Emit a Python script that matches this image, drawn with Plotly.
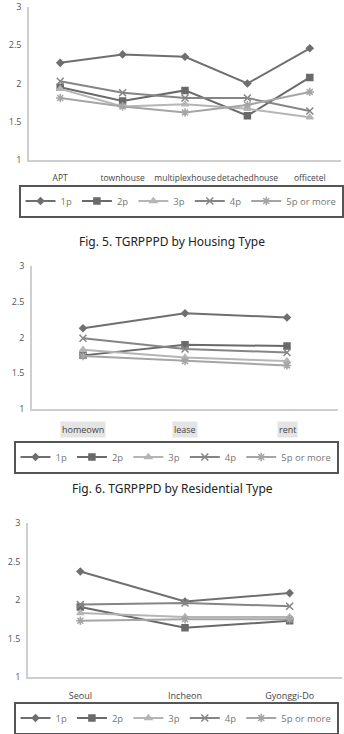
import plotly.graph_objects as go

series_names = ["1p", "2p", "3p", "4p", "5p or more"]

housing_types = ["APT", "townhouse", "multiplexhouse", "detachedhouse", "officetel"]
housing_values = {
    "1p": [2.27, 2.38, 2.35, 2.00, 2.46],
    "2p": [1.95, 1.77, 1.91, 1.58, 2.08],
    "3p": [1.93, 1.70, 1.73, 1.67, 1.56],
    "4p": [2.03, 1.88, 1.81, 1.81, 1.64],
    "5p or more": [1.81, 1.70, 1.62, 1.72, 1.89],
}

residential_types = ["homeown", "lease", "rent"]
residential_values = {
    "1p": [2.13, 2.34, 2.28],
    "2p": [1.75, 1.90, 1.88],
    "3p": [1.83, 1.72, 1.67],
    "4p": [1.99, 1.84, 1.79],
    "5p or more": [1.74, 1.67, 1.61],
}

regions = ["Seoul", "Incheon", "Gyonggi-Do"]
region_values = {
    "1p": [2.37, 1.98, 2.09],
    "2p": [1.91, 1.64, 1.73],
    "3p": [1.83, 1.78, 1.78],
    "4p": [1.94, 1.96, 1.92],
    "5p or more": [1.73, 1.75, 1.75],
}

y_ticks = [1, 1.5, 2, 2.5, 3]
y_tick_text = ["1", "1.5", "2", "2.5", "3"]

captions = ["Fig. 5. TGRPPPD by Housing Type", "Fig. 6. TGRPPPD by Residential Type"]

styles = {
    "1p": dict(color="#6f6f6f", symbol="diamond", size=5),
    "2p": dict(color="#6a6a6a", symbol="square", size=6),
    "3p": dict(color="#b5b5b5", symbol="triangle-up", size=6),
    "4p": dict(color="#858585", symbol="x-thin-open", size=7),
    "5p or more": dict(color="#a5a5a5", symbol="asterisk-open", size=7),
}

fig = go.Figure()

panels = [
    (housing_types, housing_values, "x", "y", "legend"),
    (residential_types, residential_values, "x2", "y2", "legend2"),
    (regions, region_values, "x3", "y3", "legend3"),
]

for cats, vals, xa, ya, lg in panels:
    for name in series_names:
        st = styles[name]
        fig.add_trace(go.Scatter(
            x=cats, y=vals[name], name=name, mode="lines+markers",
            xaxis=xa, yaxis=ya, legend=lg,
            line=dict(color=st["color"], width=2),
            marker=dict(symbol=st["symbol"], size=st["size"], color=st["color"],
                        line=dict(color=st["color"], width=1.5)),
        ))

axis_font = dict(family="Open Sans, Arial", size=9, color="#555555")

def xaxis(domain, anchor, cats, show_labels=True, fsize=9):
    return dict(domain=domain, anchor=anchor, type="category", automargin=False,
                range=[-0.5, len(cats) - 0.5],
                showline=True, linecolor="#cfcfcf", linewidth=1.5,
                showgrid=False, zeroline=False, ticks="outside", ticklen=9,
                tickcolor="rgba(0,0,0,0)", showticklabels=show_labels,
                tickangle=0,
                tickfont=dict(family="Open Sans, Arial", size=fsize, color="#444444"),
                fixedrange=True)

def yaxis(domain, anchor):
    return dict(domain=domain, anchor=anchor, range=[1, 3], automargin=False,
                tickvals=y_ticks, ticktext=y_tick_text,
                showline=True, linecolor="#cfcfcf", linewidth=1.5,
                showgrid=False, zeroline=False, ticks="outside", ticklen=4,
                tickcolor="rgba(0,0,0,0)", tickfont=axis_font, fixedrange=True)

H = 734.0
W = 344.0

def yd(top_px, bot_px):
    return [1 - bot_px / H, 1 - top_px / H]

def xd(l, r):
    return [l / W, r / W]

legend_common = dict(
    orientation="h", xanchor="center", yanchor="middle",
    bgcolor="white", bordercolor="#555555", borderwidth=2,
    font=dict(family="Open Sans, Arial", size=9.5, color="#777777"),
    itemwidth=30, tracegroupgap=0,
)

fig.update_layout(
    width=344, height=734,
    margin=dict(l=0, r=0, t=0, b=0, autoexpand=False),
    paper_bgcolor="white", plot_bgcolor="white",
    xaxis=xaxis(xd(29, 341), "y", housing_types, fsize=8.5),
    yaxis=yaxis(yd(7, 160), "x"),
    xaxis2=xaxis(xd(32, 338), "y2", residential_types, show_labels=False),
    yaxis2=yaxis(yd(266, 409), "x2"),
    xaxis3=xaxis(xd(28, 342), "y3", regions),
    yaxis3=yaxis(yd(523, 677), "x3"),
    legend=dict(x=181 / W, y=1 - 201 / H, **legend_common),
    legend2=dict(x=176 / W, y=1 - 457 / H, **legend_common),
    legend3=dict(x=176 / W, y=1 - 718 / H, **legend_common),
    showlegend=True,
)

# category labels of panel 2 with shaded boxes
for c in residential_types:
    fig.add_annotation(x=c, xref="x2", y=1 - 429 / H, yref="paper",
                       text=c, showarrow=False, bgcolor="#e4e4e4",
                       font=dict(family="Open Sans, Arial", size=9, color="#444444"))

fig.add_annotation(x=0.5, xref="paper", y=1 - 231 / H, yref="paper",
                   text=captions[0], showarrow=False,
                   font=dict(family="Noto Sans, Open Sans", size=12, color="#222222"))
fig.add_annotation(x=0.5, xref="paper", y=1 - 488 / H, yref="paper",
                   text=captions[1], showarrow=False,
                   font=dict(family="Noto Sans, Open Sans", size=12, color="#222222"))

fig.write_html("out.html")
